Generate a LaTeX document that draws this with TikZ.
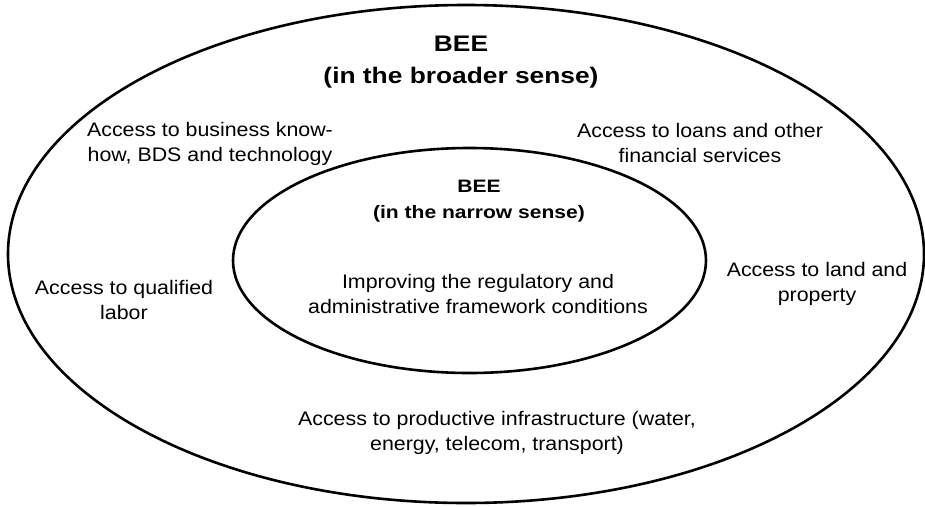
\documentclass[tikz,border=0pt]{standalone}
\usepackage{fontspec}
\setmainfont[FakeStretch=1.09]{Liberation Sans}
\newfontfamily\titlefam[FakeStretch=1.17]{Liberation Sans}
\begin{document}
\begin{tikzpicture}[x=1pt,y=-1pt,
  ring/.style={draw=black,line width=2.6pt},
  label/.style={anchor=base,align=center,inner sep=0pt,font=\fontsize{19.6}{25}\selectfont},
  bigtitle/.style={anchor=base,align=center,inner sep=0pt,font=\titlefam\bfseries\fontsize{22.5}{32}\selectfont},
  smalltitle/.style={anchor=base,align=center,inner sep=0pt,font=\titlefam\bfseries\fontsize{18}{25.5}\selectfont}]
\useasboundingbox (0,0) rectangle (925,506);
\draw[ring] (466,254) ellipse [x radius=458, y radius=249];
\draw[ring] (469.5,260.5) ellipse [x radius=236.5, y radius=112.5];
\node[bigtitle] (broad) at (461,83) {BEE\\(in the broader sense)};
\node[smalltitle] (narrow) at (479,218) {BEE\\(in the narrow sense)};
\node[label] (reg) at (478,313) {Improving the regulatory and\\administrative framework conditions};
\node[label] (know) at (210,161) {Access to business know-\\how, BDS and technology};
\node[label] (loans) at (700,162) {Access to loans and other\\financial services};
\node[label] (labor) at (124,319) {Access to qualified\\labor};
\node[label] (land) at (817,301) {Access to land and\\property};
\node[label] (infra) at (497,450) {Access to productive infrastructure (water,\\energy, telecom, transport)};
\end{tikzpicture}
\end{document}
